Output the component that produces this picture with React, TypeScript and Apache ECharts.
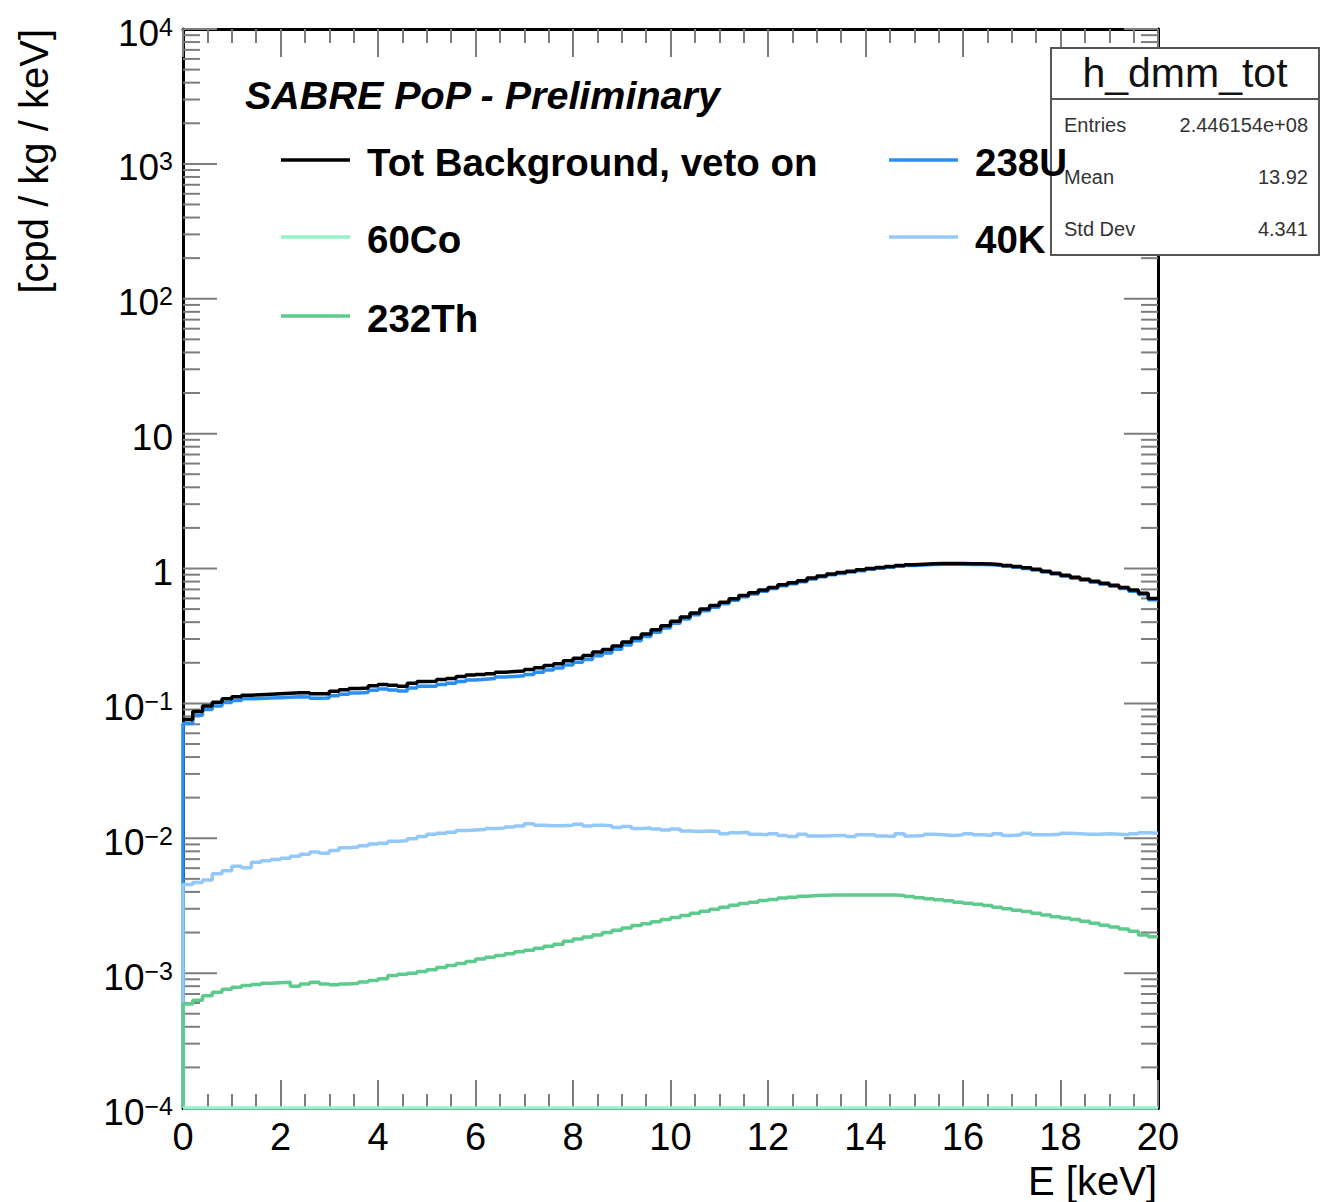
import React, { useEffect, useRef } from "react";
import * as echarts from "echarts";

// ---------------- data ----------------
const E_MIN = 0;
const E_MAX = 20;
const BIN_WIDTH = 0.2;
const Y_MIN = 1e-4;
const Y_MAX = 1e4;
const X_TICK_STEP = 2;

const SERIES_NAMES = ["Tot Background, veto on", "60Co", "232Th", "238U", "40K"];
const SERIES_COLORS = ["#000000", "#96f2c8", "#5ecb8e", "#2a8ff2", "#94c8f8"];

const TOT = [
  0.0759, 0.0871, 0.0955, 0.102, 0.108, 0.112, 0.115, 0.116, 0.117, 0.118,
  0.119, 0.12, 0.12, 0.118, 0.118, 0.123, 0.126, 0.129, 0.13, 0.135,
  0.138, 0.136, 0.134, 0.141, 0.145, 0.146, 0.15, 0.153, 0.158, 0.162,
  0.164, 0.166, 0.17, 0.172, 0.174, 0.178, 0.184, 0.191, 0.197, 0.207,
  0.216, 0.226, 0.24, 0.251, 0.266, 0.285, 0.305, 0.327, 0.351, 0.376,
  0.407, 0.437, 0.468, 0.501, 0.531, 0.562, 0.596, 0.631, 0.661, 0.692,
  0.724, 0.759, 0.785, 0.813, 0.851, 0.881, 0.912, 0.933, 0.955, 0.977,
  1.0, 1.019, 1.035, 1.052, 1.067, 1.076, 1.084, 1.089, 1.089, 1.089,
  1.086, 1.084, 1.079, 1.067, 1.052, 1.035, 1.012, 0.989, 0.955, 0.923,
  0.891, 0.861, 0.832, 0.804, 0.776, 0.75, 0.724, 0.692, 0.655, 0.6,
];

const U238 = [
  0.0708, 0.0818, 0.0899, 0.0958, 0.1015, 0.105, 0.108, 0.1085, 0.1094, 0.1102,
  0.111, 0.1118, 0.1116, 0.1092, 0.1094, 0.1141, 0.1167, 0.1196, 0.1203, 0.1251,
  0.1279, 0.1255, 0.1234, 0.1301, 0.1337, 0.1342, 0.138, 0.1408, 0.1454, 0.1493,
  0.1511, 0.1529, 0.1567, 0.1585, 0.1603, 0.1637, 0.17, 0.177, 0.183, 0.1928,
  0.2015, 0.2119, 0.2256, 0.2366, 0.2519, 0.2706, 0.291, 0.3128, 0.3369, 0.362,
  0.3927, 0.423, 0.454, 0.4868, 0.5168, 0.5481, 0.5818, 0.6166, 0.6469, 0.678,
  0.7097, 0.7449, 0.771, 0.7986, 0.8368, 0.8668, 0.8977, 0.9187, 0.9409, 0.9626,
  0.9856, 1.0048, 1.0209, 1.0374, 1.0529, 1.0619, 1.0697, 1.0749, 1.0751, 1.075,
  1.0719, 1.0702, 1.0653, 1.0531, 1.0385, 1.0215, 0.9982, 0.9756, 0.9417, 0.9097,
  0.8775, 0.8477, 0.8189, 0.791, 0.7629, 0.7371, 0.7113, 0.6792, 0.6421, 0.5872,
];

const K40 = [
  0.00455, 0.0047, 0.0049, 0.00545, 0.00575, 0.0062, 0.00605, 0.00665, 0.0068, 0.00695,
  0.0071, 0.00735, 0.0076, 0.0079, 0.00775, 0.0081, 0.0085, 0.0086, 0.0088, 0.00905,
  0.0092, 0.0095, 0.0096, 0.0099, 0.0103, 0.0107, 0.0109, 0.0111, 0.0114, 0.0115,
  0.0116, 0.0118, 0.0119, 0.0121, 0.0123, 0.0128, 0.0125, 0.0124, 0.0124, 0.0125,
  0.0127, 0.0123, 0.0125, 0.0124, 0.012, 0.0122, 0.0118, 0.0119, 0.0117, 0.0115,
  0.0117, 0.0113, 0.0112, 0.0113, 0.0112, 0.0108, 0.011, 0.0111, 0.0107, 0.0106,
  0.0108, 0.0105, 0.0103, 0.0107, 0.0104, 0.0104, 0.0105, 0.0105, 0.0103, 0.0106,
  0.0106, 0.0104, 0.0103, 0.0108, 0.0104, 0.0105, 0.0107, 0.0106, 0.0105, 0.0106,
  0.0108, 0.0106, 0.0105, 0.0108, 0.0105, 0.0106, 0.0109, 0.0106, 0.0106, 0.0107,
  0.0109, 0.0108, 0.0107, 0.0107, 0.0108, 0.0107, 0.0106, 0.0108, 0.011, 0.0109,
];

const TH232 = [
  5.9e-4, 6.3e-4, 6.8e-4, 7.2e-4, 7.6e-4, 7.85e-4, 8.1e-4, 8.25e-4, 8.4e-4, 8.5e-4,
  8.55e-4, 8.0e-4, 8.3e-4, 8.55e-4, 8.3e-4, 8.2e-4, 8.3e-4, 8.4e-4, 8.6e-4, 8.8e-4,
  9.1e-4, 9.6e-4, 9.8e-4, 1.0e-3, 1.03e-3, 1.06e-3, 1.1e-3, 1.14e-3, 1.18e-3, 1.22e-3,
  1.27e-3, 1.31e-3, 1.35e-3, 1.39e-3, 1.44e-3, 1.48e-3, 1.53e-3, 1.58e-3, 1.64e-3, 1.72e-3,
  1.79e-3, 1.85e-3, 1.92e-3, 2.0e-3, 2.08e-3, 2.16e-3, 2.25e-3, 2.32e-3, 2.4e-3, 2.5e-3,
  2.58e-3, 2.68e-3, 2.78e-3, 2.88e-3, 2.98e-3, 3.08e-3, 3.18e-3, 3.28e-3, 3.36e-3, 3.45e-3,
  3.52e-3, 3.6e-3, 3.66e-3, 3.72e-3, 3.76e-3, 3.78e-3, 3.8e-3, 3.8e-3, 3.8e-3, 3.8e-3,
  3.8e-3, 3.8e-3, 3.79e-3, 3.76e-3, 3.7e-3, 3.62e-3, 3.56e-3, 3.5e-3, 3.44e-3, 3.36e-3,
  3.3e-3, 3.24e-3, 3.17e-3, 3.08e-3, 3.0e-3, 2.93e-3, 2.86e-3, 2.78e-3, 2.7e-3, 2.62e-3,
  2.56e-3, 2.5e-3, 2.42e-3, 2.34e-3, 2.26e-3, 2.2e-3, 2.12e-3, 2.04e-3, 1.92e-3, 1.86e-3,
];

const CO60 = [
  1e-4, 1e-4, 1e-4, 1e-4, 1e-4, 1e-4, 1e-4, 1e-4, 1e-4, 1e-4,
  1e-4, 1e-4, 1e-4, 1e-4, 1e-4, 1e-4, 1e-4, 1e-4, 1e-4, 1e-4,
  1e-4, 1e-4, 1e-4, 1e-4, 1e-4, 1e-4, 1e-4, 1e-4, 1e-4, 1e-4,
  1e-4, 1e-4, 1e-4, 1e-4, 1e-4, 1e-4, 1e-4, 1e-4, 1e-4, 1e-4,
  1e-4, 1e-4, 1e-4, 1e-4, 1e-4, 1e-4, 1e-4, 1e-4, 1e-4, 1e-4,
  1e-4, 1e-4, 1e-4, 1e-4, 1e-4, 1e-4, 1e-4, 1e-4, 1e-4, 1e-4,
  1e-4, 1e-4, 1e-4, 1e-4, 1e-4, 1e-4, 1e-4, 1e-4, 1e-4, 1e-4,
  1e-4, 1e-4, 1e-4, 1e-4, 1e-4, 1e-4, 1e-4, 1e-4, 1e-4, 1e-4,
  1e-4, 1e-4, 1e-4, 1e-4, 1e-4, 1e-4, 1e-4, 1e-4, 1e-4, 1e-4,
  1e-4, 1e-4, 1e-4, 1e-4, 1e-4, 1e-4, 1e-4, 1e-4, 1e-4, 1e-4,
];

const Y_DECADES = [-4, -3, -2, -1, 0, 1, 2, 3, 4];
const Y_MINOR_MULTIPLIERS = [2, 3, 4, 5, 6, 7, 8, 9];

const PLOT_TITLE = "SABRE PoP - Preliminary";
const X_TITLE = "E [keV]";
const Y_TITLE = "[cpd / kg / keV]";
const STATS_TITLE = "h_dmm_tot";
const STATS_LABELS = ["Entries", "Mean", "Std Dev"];
const STATS_VALUES = ["2.446154e+08", "13.92", "4.341"];

// ---------------- helpers ----------------
const FONT = "'Liberation Sans', Arial, Helvetica, sans-serif";
const TICK_COLOR = "#7d7d7d";

function histPoints(vals: number[], fromBottom: boolean): number[][] {
  const pts: number[][] = [];
  if (fromBottom) pts.push([E_MIN, Y_MIN]);
  vals.forEach((v, i) => {
    pts.push([Math.round(i * BIN_WIDTH * 1000) / 1000, v]);
    pts.push([Math.round((i + 1) * BIN_WIDTH * 1000) / 1000, v]);
  });
  return pts;
}

function yLabel(v: number): string {
  const e = Math.round(Math.log10(v));
  if (e === 0) return "{b|1}";
  if (e === 1) return "{b|10}";
  const s = e < 0 ? "\u2212" + String(-e) : String(e);
  return "{b|10}{s|" + s + "}";
}

export default function App() {
  const ref = useRef<HTMLDivElement>(null);

  useEffect(() => {
    document.body.style.margin = "0";
    if (!ref.current) return;
    const chart = echarts.init(ref.current, null, { renderer: "svg" });

    const tickData: number[][] = [];
    Y_DECADES.forEach((d) => {
      tickData.push([0, Math.pow(10, d), 1]);
      if (d < 4) {
        Y_MINOR_MULTIPLIERS.forEach((m) => tickData.push([0, m * Math.pow(10, d), 0]));
      }
    });

    const seriesDefs = [
      { name: SERIES_NAMES[3], data: U238, color: SERIES_COLORS[3], bottom: true },
      { name: SERIES_NAMES[4], data: K40, color: SERIES_COLORS[4], bottom: true },
      { name: SERIES_NAMES[2], data: TH232, color: SERIES_COLORS[2], bottom: true },
      { name: SERIES_NAMES[1], data: CO60, color: SERIES_COLORS[1], bottom: true },
      { name: SERIES_NAMES[0], data: TOT, color: SERIES_COLORS[0], bottom: false },
    ];

    const lineSeries = seriesDefs.map((s) => ({
      type: "line",
      name: s.name,
      data: histPoints(s.data, s.bottom),
      showSymbol: false,
      symbol: "none",
      clip: false,
      silent: true,
      z: 4,
      lineStyle: { color: s.color, width: 3.5 },
      itemStyle: { color: s.color },
    }));

    const legendCols = [
      { x: 281, names: [SERIES_NAMES[0], SERIES_NAMES[1], SERIES_NAMES[2]], colors: [SERIES_COLORS[0], SERIES_COLORS[1], SERIES_COLORS[2]] },
      { x: 889, names: [SERIES_NAMES[3], SERIES_NAMES[4]], colors: [SERIES_COLORS[3], SERIES_COLORS[4]] },
    ];
    const rowY = [160, 237, 316];
    const legendEls: any[] = [];
    legendCols.forEach((col) => {
      col.names.forEach((n, i) => {
        legendEls.push({
          type: "line",
          z: 20,
          shape: { x1: col.x, y1: rowY[i], x2: col.x + 69, y2: rowY[i] },
          style: { stroke: col.colors[i], lineWidth: 3.5 },
        });
        legendEls.push({
          type: "text",
          z: 21,
          x: col.x + 86,
          y: rowY[i] + 2,
          style: {
            text: n,
            fill: "#000",
            font: `bold 38.5px ${FONT}`,
            textAlign: "left",
            textVerticalAlign: "middle",
          },
        });
      });
    });

    const statsEls: any[] = [
      {
        type: "rect",
        z: 10,
        shape: { x: 1051, y: 48, width: 268, height: 207 },
        style: { fill: "#fff", stroke: "#555", lineWidth: 2 },
      },
      {
        type: "line",
        z: 11,
        shape: { x1: 1051, y1: 99, x2: 1319, y2: 99 },
        style: { stroke: "#555", lineWidth: 2 },
      },
      {
        type: "text",
        z: 11,
        x: 1185,
        y: 73,
        style: { text: STATS_TITLE, fill: "#111", font: `41px ${FONT}`, textAlign: "center", textVerticalAlign: "middle" },
      },
    ];
    STATS_LABELS.forEach((l, i) => {
      const y = 125 + i * 52;
      statsEls.push({
        type: "text",
        z: 11,
        x: 1064,
        y,
        style: { text: l, fill: "#333", font: `20px ${FONT}`, textAlign: "left", textVerticalAlign: "middle" },
      });
      statsEls.push({
        type: "text",
        z: 11,
        x: 1308,
        y,
        style: { text: STATS_VALUES[i], fill: "#333", font: `20px ${FONT}`, textAlign: "right", textVerticalAlign: "middle" },
      });
    });

    const xAxisCommon = {
      type: "value",
      min: E_MIN,
      max: E_MAX,
      interval: X_TICK_STEP,
      axisLine: { show: true, onZero: false, lineStyle: { color: "#000", width: 3 } },
      axisTick: { show: true, inside: true, length: 28, lineStyle: { color: TICK_COLOR, width: 2 } },
      minorTick: { show: true, splitNumber: 4, length: 14, lineStyle: { color: TICK_COLOR, width: 2 } },
      splitLine: { show: false },
      minorSplitLine: { show: false },
    };

    const option: any = {
      animation: false,
      backgroundColor: "#fff",
      grid: { left: 183, top: 29, width: 975, height: 1079, containLabel: false },
      xAxis: [
        {
          ...xAxisCommon,
          position: "bottom",
          axisLabel: { show: true, color: "#000", fontSize: 38, fontFamily: FONT, margin: 10 },
        },
        {
          ...xAxisCommon,
          position: "top",
          axisLabel: { show: false },
        },
      ],
      yAxis: [
        {
          type: "log",
          logBase: 10,
          min: Y_MIN,
          max: Y_MAX,
          position: "left",
          axisLine: { show: true, onZero: false, lineStyle: { color: "#000", width: 3 } },
          axisTick: { show: false },
          splitLine: { show: false },
          axisLabel: {
            show: true,
            margin: 10,
            showMinLabel: true,
            showMaxLabel: true,
            formatter: yLabel,
            padding: [8, 0, 0, 0],
            rich: {
              b: { fontSize: 37, fontFamily: FONT, color: "#000", lineHeight: 38 },
              s: { fontSize: 25, fontFamily: FONT, color: "#000", lineHeight: 14, verticalAlign: "top" },
            },
          },
        },
        {
          type: "log",
          logBase: 10,
          min: Y_MIN,
          max: Y_MAX,
          position: "right",
          axisLine: { show: true, onZero: false, lineStyle: { color: "#000", width: 3 } },
          axisTick: { show: false },
          axisLabel: { show: false },
          splitLine: { show: false },
        },
      ],
      series: [
        {
          type: "custom",
          silent: true,
          clip: false,
          z: 2,
          xAxisIndex: 0,
          yAxisIndex: 0,
          encode: { x: 0, y: 1 },
          data: tickData,
          renderItem: (params: any, api: any) => {
            const v = api.value(1);
            const major = api.value(2) === 1;
            const len = major ? 34 : 17;
            const pl = api.coord([E_MIN, v]);
            const pr = api.coord([E_MAX, v]);
            return {
              type: "group",
              children: [
                {
                  type: "line",
                  shape: { x1: pl[0], y1: pl[1], x2: pl[0] + len, y2: pl[1] },
                  style: { stroke: TICK_COLOR, lineWidth: 2 },
                },
                {
                  type: "line",
                  shape: { x1: pr[0] - len, y1: pr[1], x2: pr[0], y2: pr[1] },
                  style: { stroke: TICK_COLOR, lineWidth: 2 },
                },
              ],
            };
          },
        },
        ...lineSeries,
      ],
      graphic: [
        {
          type: "text",
          z: 20,
          x: 245,
          y: 95,
          style: {
            text: PLOT_TITLE,
            fill: "#000",
            font: `italic bold 39.5px ${FONT}`,
            textAlign: "left",
            textVerticalAlign: "middle",
          },
        },
        {
          type: "text",
          z: 20,
          x: 1157,
          y: 1181,
          style: { text: X_TITLE, fill: "#000", font: `40px ${FONT}`, textAlign: "right", textVerticalAlign: "middle" },
        },
        {
          type: "text",
          z: 20,
          x: 34,
          y: 29,
          rotation: Math.PI / 2,
          style: { text: Y_TITLE, fill: "#000", font: `40px ${FONT}`, textAlign: "right", textVerticalAlign: "middle" },
        },
        ...statsEls,
        ...legendEls,
      ],
    };

    chart.setOption(option);
    return () => {
      chart.dispose();
    };
  }, []);

  return <div ref={ref} style={{ width: 1321, height: 1202 }} />;
}
